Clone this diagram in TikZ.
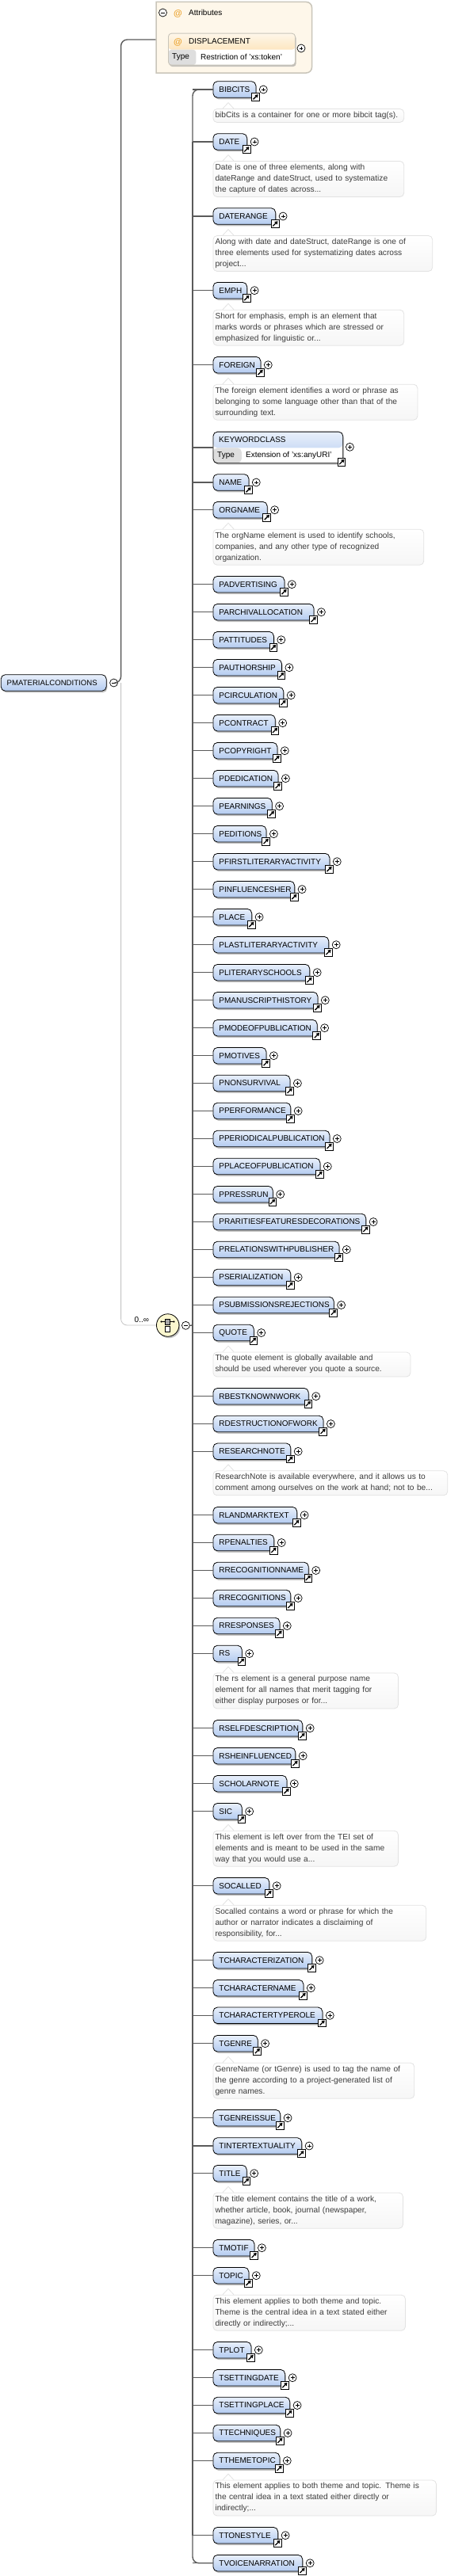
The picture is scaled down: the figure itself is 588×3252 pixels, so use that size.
\documentclass[tikz,border=0pt]{standalone}
\usepackage{fontspec}
\usetikzlibrary{shadows,arrows.meta}
\setmainfont{Liberation Sans}
\definecolor{elemtop}{HTML}{E9F0FB}
\definecolor{elembot}{HTML}{B3CBF0}
\definecolor{linegray}{HTML}{5A5A5A}
\definecolor{optgray}{HTML}{C4C4C4}
\definecolor{notegray}{HTML}{E2E2E2}
\definecolor{notefill}{HTML}{F6F6F6}
\definecolor{notetext}{HTML}{3C3C3C}
\definecolor{attrfill}{HTML}{FEF7EA}
\definecolor{attrline}{HTML}{C9C5BA}
\definecolor{attrhead}{HTML}{FBD699}
\definecolor{attrmark}{HTML}{EBA22C}
\definecolor{seqfill}{HTML}{FBF7CF}
\definecolor{cellgray}{HTML}{DEDEDE}
\begin{document}
\begin{tikzpicture}[x=1pt,y=-1pt]
  \tikzstyle{every node}=[font=\fontsize{10}{12}\selectfont]
  \tikzstyle{elem}=[rectangle,draw=black,line width=0.8pt,rounded corners=5.5pt,top color=elemtop,bottom color=elembot,
    minimum height=20.6pt,inner xsep=7.5pt,inner ysep=0pt,align=left,anchor=west,
    drop shadow={shadow xshift=1.2pt,shadow yshift=-2pt,fill=black!40,opacity=.6}]
  \tikzstyle{linkbox}=[rectangle,draw=black,fill=white,line width=0.8pt,minimum size=9.6pt,inner sep=0pt,
    path picture={\draw[line width=1.3pt,-{Triangle[length=3.6pt,width=4.6pt]}] ([xshift=2pt,yshift=2pt]path picture bounding box.south west) -- ([xshift=-1.4pt,yshift=-1.4pt]path picture bounding box.north east);}]
  \tikzstyle{plusbox}=[circle,draw=black,fill=white,line width=0.7pt,minimum size=10pt,inner sep=0pt,
    path picture={\draw[line width=0.7pt] ([xshift=-2.4pt]path picture bounding box.center) -- ([xshift=2.4pt]path picture bounding box.center);
      \draw[line width=0.7pt] ([yshift=-2.4pt]path picture bounding box.center) -- ([yshift=2.4pt]path picture bounding box.center);}]
  \tikzstyle{minusbox}=[circle,draw=black,fill=white,line width=0.7pt,minimum size=10pt,inner sep=0pt,
    path picture={\draw[line width=0.7pt] ([xshift=-2.4pt]path picture bounding box.center) -- ([xshift=2.4pt]path picture bounding box.center);}]
  \tikzstyle{note}=[rectangle,draw=notegray,line width=0.8pt,rounded corners=5pt,top color=white,bottom color=notefill,
    text=notetext,inner xsep=2.6pt,inner ysep=3.45pt,align=left,anchor=north west,font=\fontsize{10.2}{14}\selectfont,
    execute at begin node={\rule[-2.7pt]{0pt}{9.7pt}},execute at end node={\rule[-2.7pt]{0pt}{9.7pt}}]
  \tikzstyle{notetip}=[draw=notegray,fill=white,line width=0.8pt]
  \tikzstyle{branch}=[draw=linegray,line width=1.4pt]
  \tikzstyle{spine}=[draw=linegray,line width=2.6pt]
  \tikzstyle{optline}=[draw=optgray,line width=0.8pt]
  \tikzstyle{plaintext}=[inner sep=0pt,anchor=west]

  \useasboundingbox (0,0) rectangle (588,3252);

  \coordinate (rootjoin) at (152.6,862);
  \coordinate (seqjoin) at (243,1673);
  \coordinate (attrjoin) at (197,50);

  \node[elem,text width=118pt,font=\fontsize{9.6}{12}\selectfont] (root) at (0.8,862) {\mbox{PMATERIALCONDITIONS}};
  \node[minusbox] (rootminus) at (143.6,862) {};
  \draw[optline,rounded corners=8pt] (rootjoin) |- (197,1673);
  \draw[branch,rounded corners=8pt] (rootminus.east) -- (rootjoin) |- (attrjoin);

  \draw[draw=attrline,fill=attrfill,line width=1.5pt] (197,2.5) [rounded corners=7pt] -- (393.5,2.5) -- (393.5,92) [sharp corners] -- (197,92) -- cycle;
  \node[minusbox] (attrminus) at (205.5,16) {};
  \node[plaintext,text=attrmark,font=\fontsize{11}{12}\selectfont\bfseries] (attrmark) at (219,17) {@};
  \node[plaintext] (attrtitle) at (238,16) {Attributes};
  \shade[left color=attrfill,middle color=attrline,right color=attrfill] (200,29.4) rectangle (349,31);
  \node[rectangle,draw=attrline,line width=0.9pt,fill=white,rounded corners=4pt,minimum width=160pt,minimum height=40pt,anchor=north west,
    drop shadow={shadow xshift=1.2pt,shadow yshift=-2pt,fill=black!40,opacity=.6},
    path picture={\shade[top color=attrfill,bottom color=attrhead] (path picture bounding box.north west) rectangle ([yshift=-20.5pt]path picture bounding box.north east);
      \fill[cellgray] ([yshift=-20.5pt]path picture bounding box.north west) rectangle ([xshift=35pt]path picture bounding box.south west);}] (displacement) at (212,41.7) {};
  \node[plaintext,text=attrmark,font=\fontsize{11}{12}\selectfont\bfseries] (displacementmark) at (219,53) {@};
  \node[plaintext] (displacementname) at (238,52) {DISPLACEMENT};
  \node[plaintext] (displacementtype) at (217,72) {Type};
  \node[plaintext] (displacementvalue) at (253,72) {Restriction of 'xs:token'};
  \node[plusbox] (displacementplus) at (380,61) {};

  \node[circle,draw=black,fill=seqfill,line width=0.8pt,minimum size=28.5pt,inner sep=0pt,
    drop shadow={shadow xshift=1.5pt,shadow yshift=-2pt,fill=black!40,opacity=.6}] (seqbox) at (211.7,1673) {};
  \draw[line width=0.9pt] (203.6,1668.5) -- (219.4,1668.5);
  \fill (203.6,1668.5) circle (1.2pt) (219.4,1668.5) circle (1.2pt);
  \draw[fill=gray!70,line width=0.7pt] (208.6,1665.8) rectangle (214.6,1672);
  \draw[fill=white,line width=0.7pt] (208.6,1674.8) rectangle (214.6,1681);
  \node[plaintext] (seqcount) at (169.5,1666.5) {0..∞};
  \node[minusbox] (seqminus) at (234.4,1673.3) {};
  \draw[branch] (seqminus.east) -- (seqjoin);

  \foreach \nm/\tx/\yy/\rr in {
    bibcits/BIBCITS/113/322.5, date/DATE/179/311.3, daterange/DATERANGE/273/347.3,
    emph/EMPH/366.7/311.3, foreign/FOREIGN/460.7/328.5, name/NAME/609/313.5,
    orgname/ORGNAME/643.7/336.8, padvertising/PADVERTISING/737.7/358.5,
    parchivallocation/PARCHIVALLOCATION/772.7/395.6, pattitudes/PATTITUDES/807.7/345,
    pauthorship/PAUTHORSHIP/842.7/355.1, pcirculation/PCIRCULATION/877.7/357.4,
    pcontract/PCONTRACT/912.7/346.9, pcopyright/PCOPYRIGHT/947.7/349.5,
    pdedication/PDEDICATION/982.7/350.6, pearnings/PEARNINGS/1017.7/342.8,
    peditions/PEDITIONS/1052.7/335.6, pfirstliteraryactivity/PFIRSTLITERARYACTIVITY/1087.7/415.5,
    pinfluencesher/PINFLUENCESHER/1122.7/371.3, place/PLACE/1157.7/317.3,
    plastliteraryactivity/PLASTLITERARYACTIVITY/1192.7/414.4, pliteraryschools/PLITERARYSCHOOLS/1227.7/390.4,
    pmanuscripthistory/PMANUSCRIPTHISTORY/1262.7/400.5, pmodeofpublication/PMODEOFPUBLICATION/1297.7/399.8,
    pmotives/PMOTIVES/1332.7/335.6, pnonsurvival/PNONSURVIVAL/1367.5/365.6,
    pperformance/PPERFORMANCE/1402.5/366.4, pperiodicalpublication/PPERIODICALPUBLICATION/1437.5/415.5,
    pplaceofpublication/PPLACEOFPUBLICATION/1472.5/403.5, ppressrun/PPRESSRUN/1507.7/343.9,
    prarities/PRARITIESFEATURESDECORATIONS/1542.5/461.3, prelations/PRELATIONSWITHPUBLISHER/1577.5/427.5,
    pserialization/PSERIALIZATION/1612.5/366.4, psubmissions/PSUBMISSIONSREJECTIONS/1647.5/420.8,
    quote/QUOTE/1682.5/319.9, rbestknownwork/RBESTKNOWNWORK/1762.7/388.9,
    rdestruction/RDESTRUCTIONOFWORK/1797.5/407.6, researchnote/RESEARCHNOTE/1832.3/366.4,
    rlandmarktext/RLANDMARKTEXT/1912.7/374.3, rpenalties/RPENALTIES/1947.5/345.4,
    rrecognitionname/RRECOGNITIONNAME/1982.5/388.9, rrecognitions/RRECOGNITIONS/2017.5/366.4,
    rresponses/RRESPONSES/2052.5/352.5, rs/RS/2087.5/304.9,
    rselfdescription/RSELFDESCRIPTION/2181.7/381.4, rsheinfluenced/RSHEINFLUENCED/2216.7/372.4,
    scholarnote/SCHOLARNOTE/2251.7/361.5, sic/SIC/2286.7/304.9,
    socalled/SOCALLED/2380.7/339.4, tcharacterization/TCHARACTERIZATION/2474.7/393.4,
    tcharactername/TCHARACTERNAME/2509.7/382.5, tcharactertyperole/TCHARACTERTYPEROLE/2544.3/406.5,
    tgenre/TGENRE/2579.7/324.8, tgenreissue/TGENREISSUE/2673.7/353.3,
    tintertextuality/TINTERTEXTUALITY/2709/380.3, title/TITLE/2743.7/310.9,
    tmotif/TMOTIF/2837.7/320.6, topic/TOPIC/2872.7/313.5,
    tplot/TPLOT/2966.7/316.5, tsettingdate/TSETTINGDATE/3001.7/359.3,
    tsettingplace/TSETTINGPLACE/3036.5/365.3, ttechniques/TTECHNIQUES/3071.5/353.3,
    tthemetopic/TTHEMETOPIC/3106.5/352.5, ttonestyle/TTONESTYLE/3200.7/350.3,
    tvoicenarration/TVOICENARRATION/3235.7/381.4} {
    \pgfmathsetmacro{\ww}{\rr-268.5-15}
    \node[elem,text width=\ww pt] (\nm) at (268.5,\yy) {\mbox{\tx}};
    \node[linkbox] (\nm link) at ([xshift=-1pt,yshift=-9.6pt]\nm.east) {};
    \node[plusbox] (\nm plus) at ([xshift=9pt]\nm.east) {};
    \draw[branch] (seqjoin |- \nm.west) -- (\nm.west);
  }

  \node[rectangle,draw=black,line width=0.8pt,fill=white,rounded corners=5.5pt,minimum width=163.9pt,minimum height=39.6pt,anchor=north west,
    drop shadow={shadow xshift=1.2pt,shadow yshift=-2pt,fill=black!40,opacity=.6},
    path picture={\shade[top color=elemtop,bottom color=elembot] (path picture bounding box.north west) rectangle ([yshift=-20.3pt]path picture bounding box.north east);
      \fill[cellgray] ([yshift=-20.3pt]path picture bounding box.north west) rectangle ([xshift=36pt]path picture bounding box.south west);}] (keywordclass) at (268.5,544.7) {};
  \node[plaintext] (keywordclassname) at (276,555) {KEYWORDCLASS};
  \node[plaintext] (keywordclasstype) at (274,575) {Type};
  \node[plaintext] (keywordclassvalue) at (310,575) {Extension of 'xs:anyURI'};
  \node[linkbox] (keywordclasslink) at (431,583.3) {};
  \node[plusbox] (keywordclassplus) at (441.4,564.3) {};
  \draw[branch] (seqjoin |- keywordclass.west) -- (keywordclass.west);

  \draw[branch,rounded corners=8pt] (bibcits.west) -| (seqjoin) |- (tvoicenarration.west);
  \draw[spine] (seqjoin |- date.west) -- (seqjoin |- ttonestyle.west);

  \foreach \nm/\rr/\tx in {
    bibcits/509.3/{bibCits is a container for one or more bibcit tag(s).},
    date/509.3/{Date is one of three elements, along with\\dateRange and dateStruct, used to systematize\\the capture of dates across...},
    daterange/545.3/{Along with date and dateStruct, dateRange is one of\\three elements used for systematizing dates across\\project...},
    emph/509.3/{Short for emphasis, emph is an element that\\marks words or phrases which are stressed or\\emphasized for linguistic or...},
    foreign/526.5/{The foreign element identifies a word or phrase as\\belonging to some language other than that of the\\surrounding text.},
    orgname/534.4/{The orgName element is used to identify schools,\\companies, and any other type of recognized\\organization.},
    quote/517.5/{The quote element is globally available and\\should be used wherever you quote a source.},
    researchnote/564.4/{ResearchNote is available everywhere, and it allows us to\\comment among ourselves on the work at hand; not to be...},
    rs/502.1/{The rs element is a general purpose name\\element for all names that merit tagging for\\either display purposes or for...},
    sic/502.1/{This element is left over from the TEI set of\\elements and is meant to be used in the same\\way that you would use a...},
    socalled/537.4/{Socalled contains a word or phrase for which the\\author or narrator indicates a disclaiming of\\responsibility, for...},
    tgenre/522.4/{GenreName (or tGenre) is used to tag the name of\\the genre according to a project-generated list of\\genre names.},
    title/508.1/{The title element contains the title of a work,\\whether article, book, journal (newspaper,\\magazine), series, or...},
    topic/511.1/{This element applies to both theme and topic.\\Theme is the central idea in a text stated either\\directly or indirectly;...},
    tthemetopic/550.1/{This element applies to both theme and topic. Theme is\\the central idea in a text stated either directly or\\indirectly;...}} {
    \pgfmathsetmacro{\ww}{\rr-268.5-5.2}
    \node[note,text width=\ww pt] (\nm note) at ([yshift=-13.4pt]\nm.south west) {\tx};
    \path[notetip] ([xshift=12.5pt]\nm note.north west) -- ([xshift=19.5pt,yshift=7.5pt]\nm note.north west) -- ([xshift=26.5pt]\nm note.north west);
  }
\end{tikzpicture}
\end{document}
